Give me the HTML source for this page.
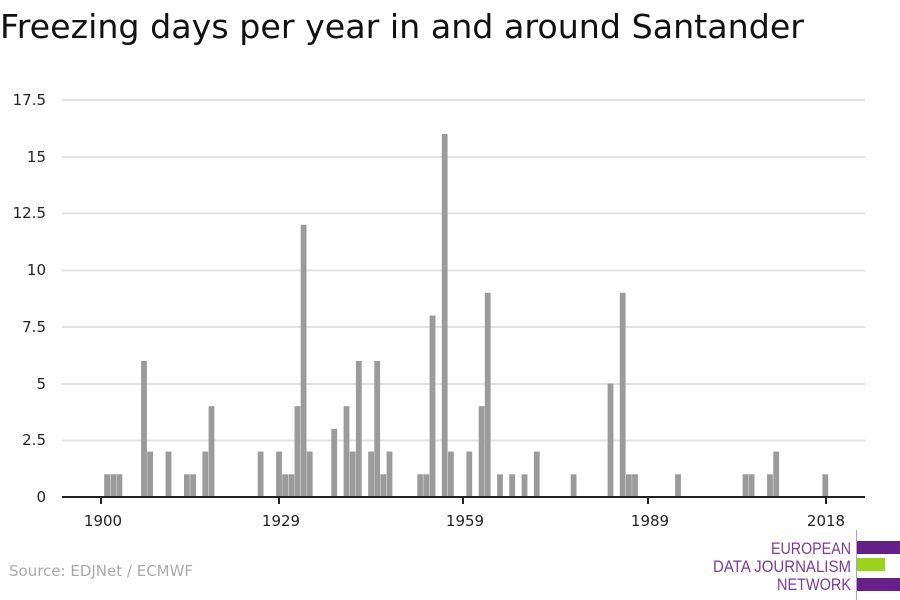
<!DOCTYPE html>
<html><head><meta charset="utf-8"><style>
body{margin:0;background:#fff;width:900px;height:600px;overflow:hidden}
svg{display:block;font-family:"DejaVu Sans","Liberation Sans",sans-serif}
</style></head><body>
<svg width="900" height="600" viewBox="0 0 900 600">
<text x="0" y="38" font-size="33" fill="#111" textLength="804" lengthAdjust="spacingAndGlyphs">Freezing days per year in and around Santander</text>
<g stroke="#e3e3e3" stroke-width="2">
<line x1="62" x2="865" y1="100" y2="100"/><line x1="62" x2="865" y1="157" y2="157"/>
<line x1="62" x2="865" y1="213.5" y2="213.5"/><line x1="62" x2="865" y1="270.5" y2="270.5"/>
<line x1="62" x2="865" y1="327" y2="327"/><line x1="62" x2="865" y1="384" y2="384"/>
<line x1="62" x2="865" y1="440.5" y2="440.5"/>
</g>
<g font-size="15" fill="#222" text-anchor="end">
<text x="46" y="105">17.5</text><text x="46" y="162">15</text><text x="46" y="218">12.5</text>
<text x="46" y="275">10</text><text x="46" y="332">7.5</text><text x="46" y="389">5</text>
<text x="46" y="445">2.5</text><text x="46" y="502">0</text>
</g>
<g id="bars" fill="#9b9b9b"></g>
<line x1="62" x2="865" y1="497" y2="497" stroke="#222" stroke-width="2"/>
<g stroke="#222" stroke-width="2">
<line x1="101" x2="101" y1="497" y2="504"/><line x1="279" x2="279" y1="497" y2="504"/>
<line x1="463" x2="463" y1="497" y2="504"/><line x1="648" x2="648" y1="497" y2="504"/>
<line x1="826" x2="826" y1="497" y2="504"/>
</g>
<g font-size="15" fill="#222" text-anchor="middle">
<text x="103" y="526">1900</text><text x="281" y="526">1929</text><text x="465" y="526">1959</text>
<text x="650" y="526">1989</text><text x="826" y="526">2018</text>
</g>
<text x="9" y="576" font-size="15" fill="#aaa">Source: EDJNet / ECMWF</text>
<line x1="856.5" x2="856.5" y1="530" y2="600" stroke="#b79ccc" stroke-width="1"/>
<rect x="857" y="541" width="43" height="13" fill="#66208a"/>
<rect x="857" y="558" width="28" height="13" fill="#9ad21e"/>
<rect x="857" y="578" width="43" height="13" fill="#66208a"/>
<g font-family="'Liberation Sans Narrow','Liberation Sans',sans-serif" font-size="17" fill="#7a3c9c" text-anchor="end">
<text x="851" y="554" textLength="80" lengthAdjust="spacingAndGlyphs">EUROPEAN</text>
<text x="851" y="572" textLength="138" lengthAdjust="spacingAndGlyphs">DATA JOURNALISM</text>
<text x="851" y="590" textLength="74" lengthAdjust="spacingAndGlyphs">NETWORK</text>
</g>
</svg>
<script>
var d={1901:1,1902:1,1903:1,1907:6,1908:2,1911:2,1914:1,1915:1,1917:2,1918:4,1926:2,1929:2,1930:1,1931:1,1932:4,1933:12,1934:2,1938:3,1940:4,1941:2,1942:6,1944:2,1945:6,1946:1,1947:2,1952:1,1953:1,1954:8,1956:16,1957:2,1960:2,1962:4,1963:9,1965:1,1967:1,1969:1,1971:2,1977:1,1983:5,1985:9,1986:1,1987:1,1994:1,2005:1,2006:1,2009:1,2010:2,2018:1};
var g=document.getElementById('bars'),s='';
for(var y in d){var c=101+(y-1900)*6.138,h=d[y]*22.69;
s+='<rect x="'+(c-2.9).toFixed(1)+'" y="'+(497-h).toFixed(1)+'" width="5.8" height="'+h.toFixed(1)+'"/>';}
g.innerHTML=s;
</script>
</body></html>
